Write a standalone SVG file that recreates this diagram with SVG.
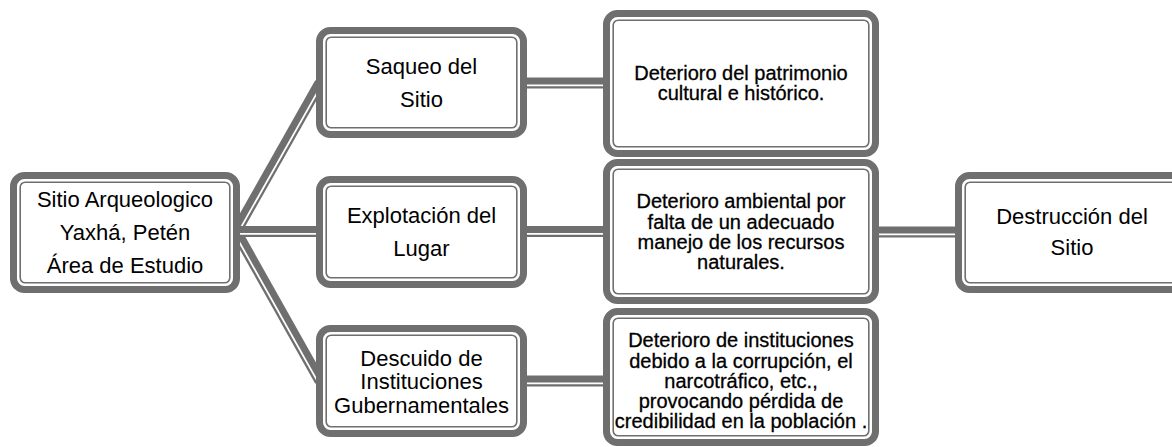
<svg xmlns="http://www.w3.org/2000/svg" width="1172" height="447" viewBox="0 0 1172 447">
<style>
.ob{fill:#fff;stroke:#6f6f6f;stroke-width:7}
.ib{fill:none;stroke:#6f6f6f;stroke-width:1.6}
.t{font-family:"Liberation Sans",Arial,sans-serif;font-size:22px;text-anchor:middle;fill:#000}
.d{font-size:20px;stroke:#000;stroke-width:0.3}
.cg{stroke:#6f6f6f;stroke-width:11;fill:none}
.cw{stroke:#fff;stroke-width:1.8;fill:none}
</style>
<rect width="1172" height="447" fill="#fff"/>
<g id="connectors">
<line class="cg" x1="236" y1="231.5" x2="320" y2="83"/>
<line class="cw" x1="238" y1="232.6" x2="322" y2="84.1"/>
<line class="cg" x1="236" y1="231.5" x2="320" y2="381"/>
<line class="cw" x1="234" y1="232.6" x2="318" y2="382.1"/>
<line class="cg" x1="236" y1="231.5" x2="318" y2="231.5"/>
<line class="cw" x1="236" y1="233.8" x2="318" y2="233.8"/>
<line class="cg" x1="525" y1="83" x2="605" y2="83"/>
<line class="cw" x1="525" y1="85.3" x2="605" y2="85.3"/>
<line class="cg" x1="525" y1="231.5" x2="605" y2="231.5"/>
<line class="cw" x1="525" y1="233.8" x2="605" y2="233.8"/>
<line class="cg" x1="525" y1="381" x2="605" y2="381"/>
<line class="cw" x1="525" y1="383.3" x2="605" y2="383.3"/>
<line class="cg" x1="877" y1="232" x2="957" y2="232"/>
<line class="cw" x1="877" y1="234.3" x2="957" y2="234.3"/>
</g>
<g id="n-sitio">
<rect class="ob" x="13.5" y="175.5" width="223" height="114" rx="11"/>
<rect class="ib" x="20.2" y="182.2" width="209.6" height="100.6" rx="5"/>
<text class="t" x="125" y="207">Sitio Arqueologico</text>
<text class="t" x="125" y="240">Yaxhá, Petén</text>
<text class="t" x="125" y="273">Área de Estudio</text>
</g>
<g id="n-saqueo">
<rect class="ob" x="319.5" y="30.5" width="204" height="104" rx="11"/>
<rect class="ib" x="326.2" y="37.2" width="190.6" height="90.6" rx="5"/>
<text class="t" x="421.5" y="74">Saqueo del</text>
<text class="t" x="421.5" y="107">Sitio</text>
</g>
<g id="n-explotacion">
<rect class="ob" x="319.5" y="179.5" width="204" height="105" rx="11"/>
<rect class="ib" x="326.2" y="186.2" width="190.6" height="91.6" rx="5"/>
<text class="t" x="421.5" y="223">Explotación del</text>
<text class="t" x="421.5" y="256">Lugar</text>
</g>
<g id="n-descuido">
<rect class="ob" x="319.5" y="328.5" width="204" height="105" rx="11"/>
<rect class="ib" x="326.2" y="335.2" width="190.6" height="91.6" rx="5"/>
<text class="t" x="421.5" y="366">Descuido de</text>
<text class="t" x="421.5" y="389">Instituciones</text>
<text class="t" x="421.5" y="413">Gubernamentales</text>
</g>
<g id="n-det1">
<rect class="ob" x="606.5" y="13.5" width="269" height="140" rx="11"/>
<rect class="ib" x="613.2" y="20.2" width="255.6" height="126.6" rx="5"/>
<text class="t d" x="741" y="80">Deterioro del patrimonio</text>
<text class="t d" x="741" y="100">cultural e histórico.</text>
</g>
<g id="n-det2">
<rect class="ob" x="606.5" y="162.5" width="269" height="138" rx="11"/>
<rect class="ib" x="613.2" y="169.2" width="255.6" height="124.6" rx="5"/>
<text class="t d" x="741" y="208">Deterioro ambiental por</text>
<text class="t d" x="741" y="228.5">falta de un adecuado</text>
<text class="t d" x="741" y="248.5">manejo de los recursos</text>
<text class="t d" x="741" y="268.5">naturales.</text>
</g>
<g id="n-det3">
<rect class="ob" x="606.5" y="311.5" width="269" height="131" rx="11"/>
<rect class="ib" x="613.2" y="318.2" width="255.6" height="117.6" rx="5"/>
<text class="t d" x="741" y="347">Deterioro de instituciones</text>
<text class="t d" x="741" y="367.5">debido a la corrupción, el</text>
<text class="t d" x="741" y="387.5">narcotráfico, etc.,</text>
<text class="t d" x="741" y="407.5">provocando pérdida de</text>
<text class="t d" x="741" y="428">credibilidad en la población .</text>
</g>
<g id="n-destruccion">
<rect class="ob" x="958.5" y="175.5" width="227" height="114" rx="11"/>
<rect class="ib" x="965.2" y="182.2" width="213.6" height="100.6" rx="5"/>
<text class="t" x="1072" y="224">Destrucción del</text>
<text class="t" x="1072" y="255">Sitio</text>
</g>
</svg>
